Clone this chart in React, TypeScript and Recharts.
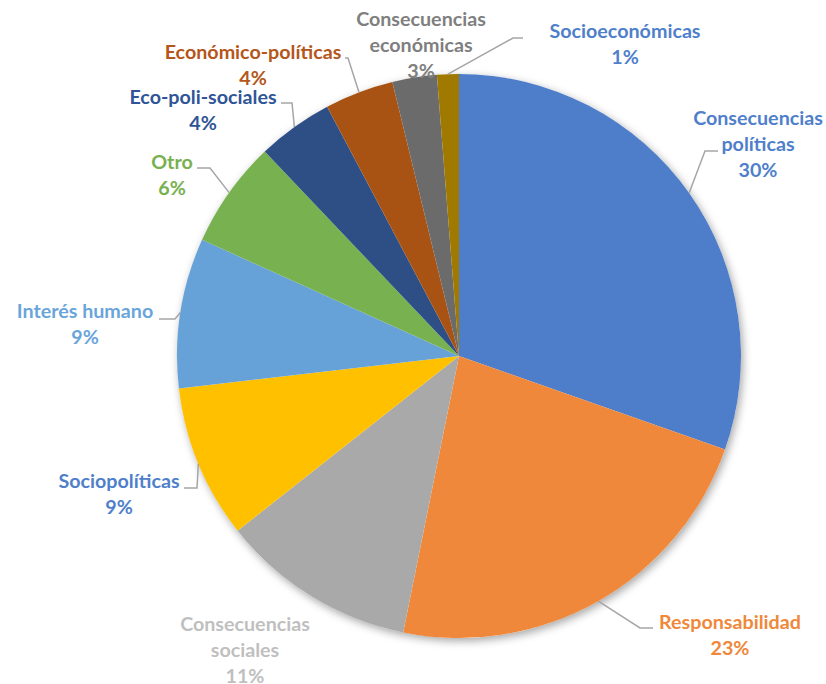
import React from 'react'
import { PieChart, Pie, Cell } from 'recharts'

// slice order: clockwise from 12 o'clock
const categories = [
  'Consecuencias políticas',
  'Responsabilidad',
  'Consecuencias sociales',
  'Sociopolíticas',
  'Interés humano',
  'Otro',
  'Eco-poli-sociales',
  'Económico-políticas',
  'Consecuencias económicas',
  'Socioeconómicas',
]
const shares = [30.4, 22.8, 11.2, 8.8, 8.6, 6.15, 4.35, 3.95, 2.55, 1.25]

const sliceColors = [
  '#4E7DCA', '#EF883B', '#A9A9A9', '#FFC000', '#66A2D8',
  '#78B150', '#2E4F85', '#A85314', '#6B6B6B', '#A07A00',
]
const labelColors = [
  '#4F7FCB', '#EF883B', '#BFBFBF', '#4F7FCB', '#6AA5DA',
  '#78B150', '#2F5597', '#B5561B', '#7F7F7F', '#4F7FCB',
]

// label placement (layout only): text centre, first line centre, leader elbow + end
type Spot = { x: number; y: number; wrap?: boolean; elbow?: [number, number]; end?: [number, number] }
const labelSpots: Spot[] = [
  { x: 758, y: 119, wrap: true, elbow: [705, 151], end: [718, 151] },
  { x: 730, y: 623, elbow: [640, 628], end: [653, 628] },
  { x: 245, y: 625, wrap: true },
  { x: 119, y: 482, elbow: [197, 488], end: [184, 488] },
  { x: 85, y: 312, elbow: [175, 319], end: [159, 319] },
  { x: 172, y: 163, elbow: [210, 168], end: [197, 168] },
  { x: 203, y: 98, elbow: [292, 103], end: [281, 103] },
  { x: 253, y: 53, elbow: [348, 58], end: [345, 58] },
  { x: 421, y: 20, wrap: true },
  { x: 625, y: 32, elbow: [513, 38], end: [523, 38] },
]

const data = categories.map((name, i) => ({ name, value: shares[i] }))
const FONT = 'Lato, "Open Sans", sans-serif'
const LINE = 26

function renderLabel(props: any) {
  const { cx, cy, midAngle, outerRadius, percent, index } = props
  const spot = labelSpots[index]
  const rad = (-midAngle * Math.PI) / 180
  const ex = cx + outerRadius * Math.cos(rad)
  const ey = cy + outerRadius * Math.sin(rad)
  const name = categories[index]
  const lines = spot.wrap
    ? [name.slice(0, name.indexOf(' ')), name.slice(name.indexOf(' ') + 1)]
    : [name]
  lines.push(`${Math.round(percent * 100)}%`)
  return (
    <g key={`lbl-${index}`}>
      {spot.elbow && spot.end && (
        <polyline
          points={`${ex},${ey} ${spot.elbow[0]},${spot.elbow[1]} ${spot.end[0]},${spot.end[1]}`}
          fill="none"
          stroke="#A6A6A6"
          strokeWidth={1.5}
        />
      )}
      <text textAnchor="middle" fill={labelColors[index]} fontFamily={FONT} fontWeight={700} fontSize={19.7}>
        {lines.map((t, i) => (
          <tspan key={i} x={spot.x} y={spot.y + i * LINE + 6}>
            {t}
          </tspan>
        ))}
      </text>
    </g>
  )
}

export default function App() {
  return (
    <div style={{ position: 'absolute', left: 0, top: 0, background: '#fff' }}>
      <PieChart width={826} height={684} margin={{ top: 0, right: 0, bottom: 0, left: 0 }}>
        {/* soft shadow under the pie */}
        <Pie
          data={[{ name: 'shadow', value: 1 }]}
          dataKey="value"
          cx={459}
          cy={356}
          outerRadius={282}
          startAngle={90}
          endAngle={-270}
          stroke="none"
          isAnimationActive={false}
        >
          <Cell fill="#ffffff" style={{ filter: 'drop-shadow(2px 3px 4px rgba(0,0,0,0.35))' }} />
        </Pie>
        <Pie
          data={data}
          dataKey="value"
          nameKey="name"
          cx={459}
          cy={356}
          outerRadius={282}
          startAngle={90}
          endAngle={-270}
          stroke="none"
          label={renderLabel}
          labelLine={false}
          isAnimationActive={false}
        >
          {data.map((d, i) => (
            <Cell key={d.name} fill={sliceColors[i]} />
          ))}
        </Pie>
      </PieChart>
    </div>
  )
}
